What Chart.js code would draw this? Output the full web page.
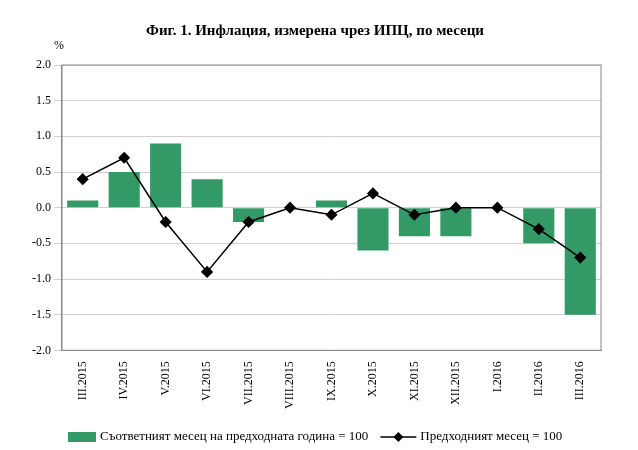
<!DOCTYPE html>
<html><head><meta charset="utf-8">
<script src="https://cdn.jsdelivr.net/npm/chart.js@4/dist/chart.umd.min.js"></script>
<style>body{margin:0;background:#fff}#w{position:relative;width:638px;height:450px}</style>
</head><body><div id="w"><canvas id="c" width="638" height="450"></canvas></div>
<script>
const categories=["III.2015","IV.2015","V.2015","VI.2015","VII.2015","VIII.2015","IX.2015","X.2015","XI.2015","XII.2015","I.2016","II.2016","III.2016"];
const yearOnYear=[0.1,0.5,0.9,0.4,-0.2,0,0.1,-0.6,-0.4,-0.4,0,-0.5,-1.5];
const monthOnMonth=[0.4,0.7,-0.2,-0.9,-0.2,0.0,-0.1,0.2,-0.1,0.0,0.0,-0.3,-0.7];
const F="'Liberation Serif','Times New Roman',serif";
Chart.defaults.font.family=F;Chart.defaults.color="#000";
new Chart(document.getElementById('c'),{
 data:{labels:categories,datasets:[
  {type:'bar',label:'Съответният месец на предходната година = 100',data:yearOnYear,backgroundColor:'#339966',categoryPercentage:0.75,barPercentage:1,order:2},
  {type:'line',label:'Предходният месец = 100',data:monthOnMonth,borderColor:'#000',backgroundColor:'#000',borderWidth:1.5,pointStyle:'rectRot',pointRadius:5,pointHoverRadius:5,order:1}
 ]},
 options:{responsive:false,animation:false,
  layout:{padding:{left:29,right:37,top:14,bottom:38}},
  plugins:{title:{display:true,text:'Фиг. 1. Инфлация, измерена чрез ИПЦ, по месеци',font:{size:15,weight:'bold',family:F},padding:{top:8,bottom:25}},
   legend:{display:false},tooltip:{enabled:false}},
  scales:{
   x:{grid:{display:false},border:{color:'#888'},ticks:{maxRotation:90,minRotation:90,font:{size:12}}},
   y:{min:-2,max:2,ticks:{stepSize:0.5,font:{size:12},callback:v=>v.toFixed(1)},grid:{color:'#d0d0d0'},border:{color:'#888'}}
  }},
 plugins:[{id:'pct',afterDraw(ch){const c=ch.ctx,a=ch.chartArea;c.save();c.font="12px "+F;c.fillStyle='#000';c.fillText('%',a.left-8,a.top-16);
   c.strokeStyle='#888';c.lineWidth=1;c.strokeRect(a.left,a.top,a.right-a.left,a.bottom-a.top);
   const y=437;c.font="13px "+F;c.textBaseline='middle';
   c.fillStyle='#339966';c.fillRect(68,y-5,28,10);
   c.fillStyle='#000';c.fillText(ch.data.datasets[0].label,100,y);
   const x2=100+c.measureText(ch.data.datasets[0].label).width+12;
   c.strokeStyle='#000';c.lineWidth=1.5;c.beginPath();c.moveTo(x2,y);c.lineTo(x2+36,y);c.stroke();
   const mx=x2+18;c.beginPath();c.moveTo(mx,y-5);c.lineTo(mx+5,y);c.lineTo(mx,y+5);c.lineTo(mx-5,y);c.closePath();c.fill();
   c.fillText(ch.data.datasets[1].label,x2+40,y);
   c.restore();}}]
});
</script></body></html>
